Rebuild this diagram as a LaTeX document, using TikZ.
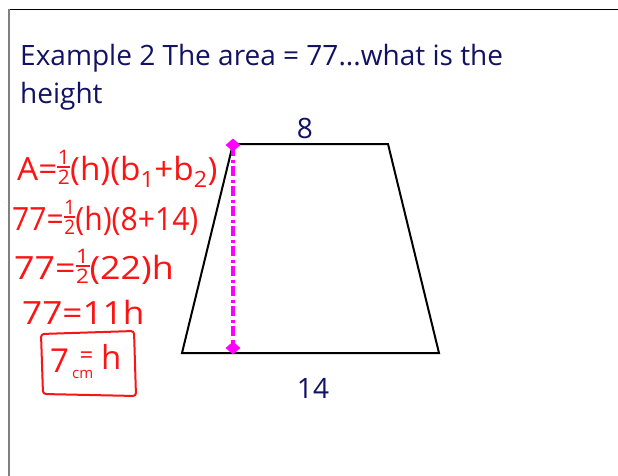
\documentclass[tikz,border=0pt]{standalone}
\usepackage{fontspec}
\setmainfont{Open Sans}
\usetikzlibrary{shapes.geometric}
\definecolor{navy}{RGB}{18,18,100}
\definecolor{hred}{RGB}{250,20,20}
\definecolor{mag}{RGB}{255,0,255}
\newcommand\hf{\raisebox{-4.5pt}{\fontsize{20}{20}\selectfont\vbox{\offinterlineskip\halign{\hfil##\hfil\cr 1\cr\noalign{\kern2pt}\rule{0.62em}{1.8pt}\cr\noalign{\kern2pt}2\cr}}}}
\newcommand\eqcm{\vbox{\offinterlineskip\halign{\hfil##\cr \fontsize{24}{24}\selectfont =\cr\noalign{\kern6pt}\fontsize{15}{15}\selectfont cm\cr}}}
\tikzset{
  titletext/.style={anchor=base west, text=navy, font=\fontsize{28}{30}\selectfont, inner sep=0pt},
  lbl/.style={text=navy, font=\fontsize{28}{30}\selectfont, inner sep=0pt},
  hand/.style={anchor=base west, text=hred, font=\fontsize{32}{34}\selectfont, inner sep=0pt},
  edge/.style={draw=black, line width=2pt},
  hline/.style={draw=mag, line width=4pt, dash pattern=on 10pt off 3.5pt on 3pt off 3.5pt},
  dmd/.style={diamond, fill=mag, inner sep=0pt, minimum width=15pt, minimum height=13pt}
}
\begin{document}
\begin{tikzpicture}[x=1pt,y=-1pt]
\useasboundingbox (0,0) rectangle (618,476);
\fill[white] (0,0) rectangle (618,476);
% frame
\coordinate (fc) at (8.5,9.5);
\coordinate (fr) at (618,9.5);
\coordinate (fb) at (8.5,476);
\draw[line width=1.5pt] (fc) -- (fr);
\draw[line width=2pt, draw=gray] (fc) -- (fb);
% title
\node[titletext] (t1) at (20,66) {Example 2 The area = 77...what is the};
\node[titletext] (t2) at (20,104) {height};
% trapezoid
\coordinate (tl) at (233,144);
\coordinate (tr) at (388,144);
\coordinate (br) at (439,353);
\coordinate (bl) at (182,353);
\draw[edge, line join=miter] (tl) -- (tr) -- (br) -- (bl) -- cycle;
\node[lbl] (top) at (305,128) {8};
\node[lbl] (bot) at (313,388) {14};
% height
\draw[hline] (233,146) -- (233,347);
\node[dmd] (d1) at (233,145) {};
\node[dmd] (d2) at (233,348) {};
% handwritten work
\node[hand] (e1) at (17,180) {\scalebox{1.04}[1]{A=\hf(h)(b\textsubscript{1}+b\textsubscript{2})}};
\node[hand] (e2) at (12,230) {\scalebox{0.94}[1]{77=\hf(h)(8+14)}};
\node[hand] (e3) at (14,279) {\scalebox{1.12}[1]{77=\hf(22)h}};
\node[hand] (e4) at (22,324) {\scalebox{1.1}[1]{77=11h}};
\node[hand, font=\fontsize{33}{34}\selectfont] (s7) at (50,372) {7};
\node[hand] (scm) at (72,378) {\eqcm};
\node[hand, font=\fontsize{33}{34}\selectfont] (sh) at (101,369) {h};
\draw[draw=hred, line width=2pt, rounded corners=3pt] (41,334) -- (134,331) -- (136,396) -- (43,394) -- cycle;
\end{tikzpicture}
\end{document}
